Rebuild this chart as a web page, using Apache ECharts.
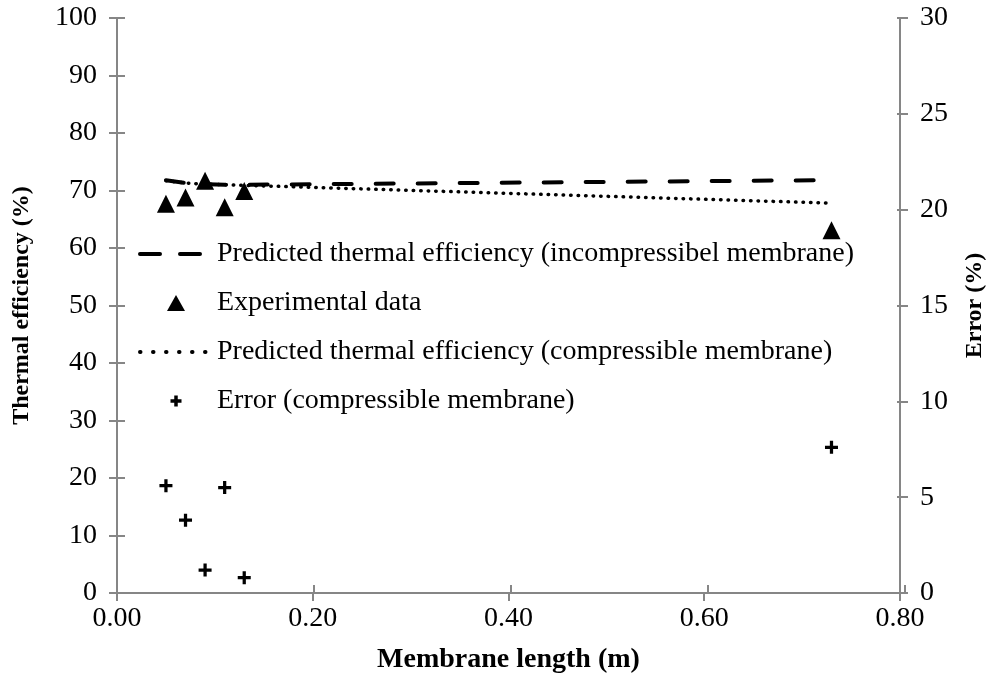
<!DOCTYPE html>
<html>
<head>
<meta charset="utf-8">
<script src="https://cdn.jsdelivr.net/npm/echarts@6/dist/echarts.min.js"></script>
<style>
  html, body { margin: 0; padding: 0; background: #fff; }
  #chart { width: 995px; height: 680px; }
</style>
</head>
<body>
<div id="chart"></div>
<script>
// membrane length (m) where the experiments were taken
const lengths = [0.05, 0.07, 0.09, 0.11, 0.13, 0.73];
const experimental = [67.7, 68.8, 71.7, 67.1, 69.9, 63.1];
const predIncompressible = [71.8, 71.3, 71.1, 71.0, 71.0, 71.8];
const predCompressible = [71.7, 71.3, 71.1, 71.0, 70.9, 67.8];
const errorCompressible = [5.6, 3.8, 1.2, 5.5, 0.8, 7.6];

const xTicks = [0, 0.2, 0.4, 0.6, 0.8];

const seriesNames = [
  'Predicted thermal efficiency (incompressibel membrane)',
  'Experimental data',
  'Predicted thermal efficiency (compressible membrane)',
  'Error (compressible membrane)'
];

const pair = (ys) => lengths.map((x, i) => [x, ys[i]]);

const axisGrey = '#868686';
const font = 'Liberation Serif';
const plusPath = 'path://M3,0h2v3h3v2h-3v3h-2v-3h-3v-2h3z';
// legend icons: padded to the 72x16 icon box so they are not stretched
const triIcon = 'path://M0,0M72,16M27,16L36,0L45,16Z';
const plusIcon = 'path://M0,0M72,16M34.25,2.5h3.5v3.75h3.75v3.5h-3.75v3.75h-3.5v-3.75h-3.75v-3.5h3.75z';
const hidden = { color: 'transparent', borderColor: 'transparent', borderWidth: 0 };

const labelStyle = { fontFamily: font, fontSize: 28, color: '#000' };
const nameStyle = { fontFamily: font, fontSize: 28, fontWeight: 'bold', color: '#000' };
const sideNameStyle = { fontFamily: font, fontSize: 24, fontWeight: 'bold', color: '#000' };

// ticks cross the axis: outside ticks on the main axes, inside ones on a copy
function ticks(inside) {
  return { show: true, inside: inside, length: 8, lineStyle: { color: axisGrey, width: 2 } };
}

const chart = echarts.init(document.getElementById('chart'));
chart.setOption({
  backgroundColor: '#fff',
  animation: false,
  grid: [
    { left: 117, right: 90, top: 18, bottom: 87 },
    { left: 117, right: 90, top: 18, bottom: 87 }
  ],
  legend: {
    orient: 'vertical',
    left: 133,
    top: 235,
    itemWidth: 72,
    itemHeight: 16,
    itemGap: 21,
    textStyle: labelStyle,
    data: [
      { name: seriesNames[0], itemStyle: hidden, lineStyle: { type: [20, 20], width: 4, cap: 'round' } },
      { name: seriesNames[1], icon: triIcon },
      { name: seriesNames[2], itemStyle: hidden, lineStyle: { type: [0.5, 12.5], width: 4, cap: 'round' } },
      { name: seriesNames[3], icon: plusIcon }
    ]
  },
  xAxis: [
    {
      type: 'value',
      gridIndex: 0,
      min: xTicks[0],
      max: xTicks[xTicks.length - 1],
      interval: 0.2,
      axisLine: { lineStyle: { color: axisGrey, width: 2 } },
      axisTick: ticks(false),
      splitLine: { show: false },
      axisLabel: Object.assign({ margin: 12, formatter: (v) => v.toFixed(2) }, labelStyle),
      name: 'Membrane length (m)',
      nameLocation: 'middle',
      nameGap: 53,
      nameTextStyle: nameStyle
    },
    {
      type: 'value',
      gridIndex: 1,
      min: 0,
      max: 0.8,
      interval: 0.2,
      axisLine: { show: false },
      axisTick: ticks(true),
      splitLine: { show: false },
      axisLabel: { show: false }
    }
  ],
  yAxis: [
    {
      type: 'value',
      gridIndex: 0,
      position: 'left',
      min: 0,
      max: 100,
      interval: 10,
      axisLine: { show: true, lineStyle: { color: axisGrey, width: 2 } },
      axisTick: ticks(false),
      splitLine: { show: false },
      axisLabel: Object.assign({ margin: 20 }, labelStyle),
      name: 'Thermal efficiency (%)',
      nameLocation: 'middle',
      nameRotate: 90,
      nameGap: 83,
      nameTextStyle: sideNameStyle
    },
    {
      type: 'value',
      gridIndex: 0,
      position: 'right',
      min: 0,
      max: 30,
      interval: 5,
      axisLine: { show: true, lineStyle: { color: axisGrey, width: 2 } },
      axisTick: ticks(false),
      splitLine: { show: false },
      axisLabel: Object.assign({ margin: 20 }, labelStyle),
      name: 'Error (%)',
      nameLocation: 'middle',
      nameRotate: 90,
      nameGap: 63,
      nameTextStyle: sideNameStyle
    },
    {
      type: 'value',
      gridIndex: 1,
      position: 'left',
      min: 0,
      max: 100,
      interval: 10,
      axisLine: { show: false },
      axisTick: ticks(true),
      splitLine: { show: false },
      axisLabel: { show: false }
    },
    {
      type: 'value',
      gridIndex: 1,
      position: 'right',
      min: 0,
      max: 30,
      interval: 5,
      axisLine: { show: false },
      axisTick: ticks(true),
      splitLine: { show: false },
      axisLabel: { show: false }
    }
  ],
  series: [
    {
      name: seriesNames[0],
      type: 'line',
      xAxisIndex: 0,
      yAxisIndex: 0,
      data: pair(predIncompressible),
      symbol: 'none',
      itemStyle: { color: '#000' },
      lineStyle: { color: '#000', width: 4, type: [18, 24], cap: 'round' },
      z: 2
    },
    {
      name: seriesNames[1],
      type: 'scatter',
      xAxisIndex: 0,
      yAxisIndex: 0,
      data: pair(experimental),
      symbol: 'triangle',
      symbolSize: 18,
      itemStyle: { color: '#000', opacity: 1 },
      z: 3
    },
    {
      name: seriesNames[2],
      type: 'line',
      xAxisIndex: 0,
      yAxisIndex: 0,
      data: pair(predCompressible),
      symbol: 'none',
      itemStyle: { color: '#000' },
      lineStyle: { color: '#000', width: 3.5, type: [0.5, 7], cap: 'round' },
      z: 2
    },
    {
      name: seriesNames[3],
      type: 'scatter',
      xAxisIndex: 0,
      yAxisIndex: 1,
      data: pair(errorCompressible),
      symbol: plusPath,
      symbolSize: 13,
      itemStyle: { color: '#000', opacity: 1 },
      z: 3
    }
  ]
});
</script>
</body>
</html>
